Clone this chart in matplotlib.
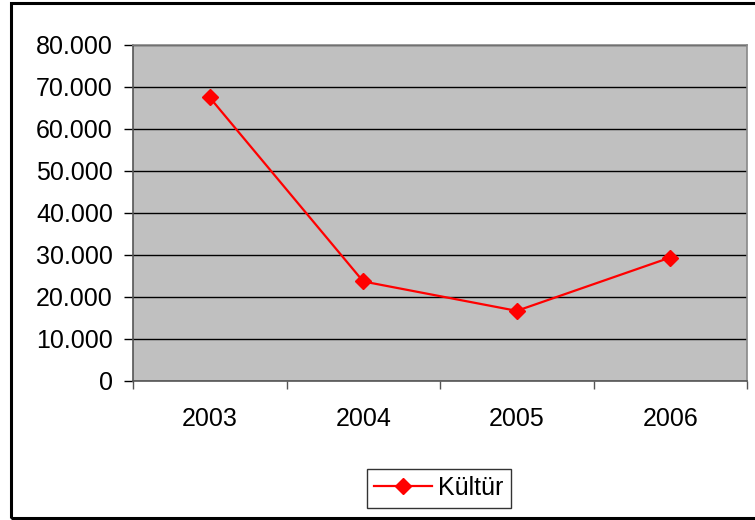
import matplotlib.pyplot as plt
from matplotlib.patches import Rectangle
from matplotlib.ticker import FuncFormatter

# yearly values for the single series
years = ['2003', '2004', '2005', '2006']
kultur = [67500, 23700, 16700, 29400]

plt.rcParams['font.family'] = ['Liberation Sans', 'DejaVu Sans']

fig = plt.figure(figsize=(7.55, 5.2), dpi=100)
W, H = 755, 520
ax = fig.add_axes([133 / W, 1 - 381 / H, (747 - 133) / W, (381 - 45) / H])
ax.set_facecolor('#c0c0c0')

x = list(range(len(years)))
ax.plot(x, kultur, color='#ff0000', linewidth=1.6, marker='D', markersize=8,
        label='Kültür', zorder=3)

ax.set_xlim(-0.5, len(years) - 0.5)
ax.set_ylim(0, 80000)
ax.set_yticks(range(0, 80001, 10000))
ax.yaxis.set_major_formatter(FuncFormatter(lambda v, p: f'{int(v):,}'.replace(',', '.')))
ax.grid(axis='y', color='black', linewidth=1.0)
ax.set_axisbelow(True)

ax.set_xticks(x)
ax.set_xticklabels(years)
ax.set_xticks([i - 0.5 for i in range(len(years) + 1)], minor=True)
ax.tick_params(axis='x', which='major', length=0, pad=19, labelsize=18)
ax.tick_params(axis='x', which='minor', length=6, width=1, color='#555555', direction='out')
ax.tick_params(axis='y', length=6.5, width=1, pad=8, labelsize=18, color='black')

for side in ['top', 'right']:
    ax.spines[side].set_color('#888888')
    ax.spines[side].set_linewidth(1.2)
for side in ['left', 'bottom']:
    ax.spines[side].set_color('#555555')
    ax.spines[side].set_linewidth(1.2)

leg = ax.legend(loc='center', bbox_to_anchor=(439 / W, 1 - 488 / H),
                bbox_transform=fig.transFigure, fontsize=18, frameon=True,
                fancybox=False, edgecolor='black', handlelength=2.3,
                borderpad=0.3, handletextpad=0.25)
leg.get_frame().set_linewidth(1)

# outer chart border
fig.patches.append(Rectangle((11 / W, 1 - 518 / H), 1, (518 - 3) / H,
                             transform=fig.transFigure, fill=False,
                             edgecolor='black', linewidth=2.2))

fig.savefig('out.png', dpi=100)
